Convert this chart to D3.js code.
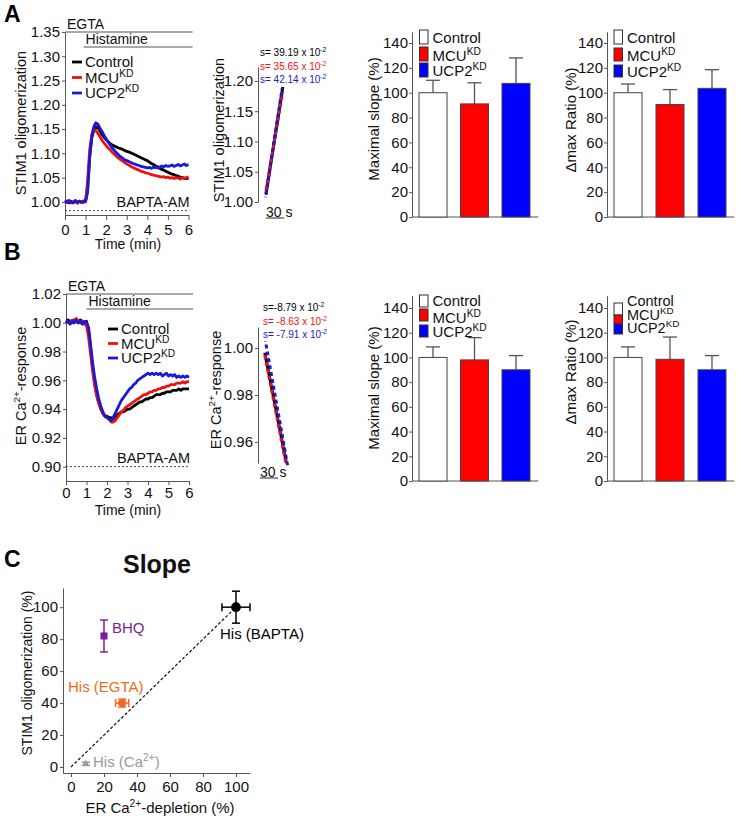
<!DOCTYPE html>
<html><head><meta charset="utf-8">
<script src="https://cdn.jsdelivr.net/npm/d3@7"></script>
<style>
body{margin:0;background:#fff;}
svg{display:block;}
</style></head><body>
<svg id="fig" width="740" height="821"></svg>
<script>
// ---------------- DATA ----------------
const groups = ["Control", "MCU", "UCP2"];
const groupLabels = [["Control"], ["MCU", ["KD"]], ["UCP2", ["KD"]]];
const groupColors = ["#000000", "#ee1111", "#1a1ad6"];
const barFills = ["#ffffff", "#ff0000", "#0000ff"];

const timeMin = d3.range(0, 61).map(i => i / 10);
const timeTicks = [0, 1, 2, 3, 4, 5, 6];

// Panel A traces (STIM1 oligomerization)
const stimControl = [1.000,1.002,0.998,1.001,0.999,1.003,0.998,1.001,1.000,0.999,1.002,
  1.030,1.095,1.132,1.148,1.155,1.153,1.146,1.139,1.133,1.128,
  1.124,1.120,1.117,1.115,1.113,1.111,1.110,1.108,1.106,1.104,
  1.103,1.101,1.099,1.097,1.095,1.093,1.091,1.089,1.087,1.085,
  1.082,1.079,1.077,1.074,1.071,1.069,1.067,1.065,1.063,1.061,
  1.059,1.057,1.056,1.054,1.053,1.051,1.050,1.049,1.048,1.049];
const stimMCU = [0.999,1.001,1.002,0.998,1.000,1.001,0.997,1.002,0.999,1.001,1.000,
  1.045,1.108,1.138,1.149,1.147,1.141,1.134,1.127,1.121,1.116,
  1.111,1.107,1.102,1.098,1.094,1.090,1.087,1.084,1.081,1.078,
  1.076,1.073,1.071,1.069,1.067,1.065,1.063,1.062,1.060,1.059,
  1.058,1.056,1.055,1.054,1.053,1.052,1.051,1.052,1.050,1.051,
  1.049,1.050,1.048,1.050,1.049,1.047,1.050,1.048,1.050,1.052];
const stimUCP2 = [1.001,0.999,1.003,1.000,0.998,1.002,1.000,1.001,0.999,1.002,1.001,
  1.020,1.090,1.135,1.155,1.163,1.160,1.152,1.145,1.137,1.130,
  1.123,1.117,1.111,1.106,1.101,1.097,1.093,1.090,1.087,1.085,
  1.083,1.081,1.079,1.078,1.076,1.075,1.073,1.072,1.071,1.070,
  1.071,1.069,1.072,1.070,1.073,1.071,1.074,1.072,1.075,1.073,
  1.074,1.076,1.073,1.075,1.077,1.074,1.076,1.078,1.075,1.077];

// Panel B traces (ER Ca2+ response)
const erControl = [1.000,1.002,1.001,1.000,1.002,1.001,1.000,1.002,1.001,1.000,1.001,
  0.995,0.982,0.969,0.958,0.950,0.944,0.940,0.937,0.935,0.935,
  0.934,0.934,0.933,0.935,0.936,0.937,0.938,0.938,0.939,0.940,
  0.940,0.941,0.942,0.943,0.944,0.945,0.945,0.946,0.947,0.947,
  0.948,0.948,0.949,0.950,0.950,0.950,0.951,0.951,0.952,0.952,
  0.952,0.953,0.953,0.953,0.954,0.953,0.954,0.954,0.954,0.954];
const erMCU = [1.000,1.001,1.000,1.002,1.000,1.003,1.001,1.000,1.001,0.999,0.998,
  0.990,0.978,0.966,0.956,0.949,0.944,0.940,0.937,0.935,0.934,
  0.933,0.931,0.931,0.932,0.934,0.936,0.938,0.939,0.941,0.942,
  0.943,0.944,0.945,0.946,0.947,0.948,0.949,0.950,0.950,0.951,
  0.952,0.952,0.953,0.953,0.954,0.954,0.955,0.955,0.956,0.956,
  0.957,0.957,0.957,0.958,0.958,0.958,0.959,0.958,0.959,0.959];
const erUCP2 = [1.000,1.001,0.999,1.001,1.000,1.002,1.000,1.001,0.999,1.001,1.000,
  0.997,0.985,0.972,0.962,0.954,0.947,0.942,0.938,0.935,0.934,
  0.933,0.932,0.934,0.937,0.940,0.943,0.946,0.948,0.950,0.952,
  0.954,0.955,0.957,0.958,0.960,0.961,0.962,0.963,0.964,0.965,
  0.964,0.965,0.964,0.965,0.964,0.965,0.963,0.964,0.965,0.963,
  0.964,0.963,0.964,0.962,0.963,0.962,0.963,0.962,0.963,0.962];

const stimYTicks = [1.00,1.05,1.10,1.15,1.20,1.25,1.30,1.35];
const erYTicks = [0.90,0.92,0.94,0.96,0.98,1.00,1.02];
const baptaLevelA = 0.982, baptaLevelB = 0.90;
const histStartA = 0.9, histStartB = 1.0;

// Slope insets (time in s, value)
const slopeTimesA = [[0, 28], [0, 28], [-1, 27]];
const slopeValsA = [[1.012, 1.190], [1.020, 1.182], [1.008, 1.188]];
const slopeTextA = ["s= 39.19 x 10", "s= 35.65 x 10", "s= 42.14 x 10"];
const slopeTimesB = [[8, 44], [8, 43], [9, 46]];
const slopeValsB = [[0.998, 0.951], [0.997, 0.951], [1.003, 0.950]];
const slopeTextB = ["s=-8.79 x 10", "s= -8.63 x 10", "s= -7.91 x 10"];
const slopeExp = "-2";
const stimInsetTicks = [1.00, 1.05, 1.10, 1.15, 1.20];
const erInsetTicks = [0.96, 0.98, 1.00];

// Bar data (%)
const barTicks = [0, 20, 40, 60, 80, 100, 120, 140];
const stimSlopeMean = [100, 91, 107.5], stimSlopeErr = [10, 17, 20.5];
const stimDmaxMean = [100, 90.5, 103.5], stimDmaxErr = [7, 12, 15];
const erSlopeMean = [100, 98, 90], erSlopeErr = [8.5, 18, 11.5];
const erDmaxMean = [100, 98.5, 90], erDmaxErr = [8.5, 18, 11.5];

// Panel C
const cNames = ["His (BAPTA)", "BHQ", "His (EGTA)", "His (Ca2+)"];
const cX = [100, 20, 31, 9];
const cY = [100, 82, 40, 2];
const cXErr = [8.5, 0, 4, 0];
const cYErr = [10, 10, 2.5, 1];
const cColors = ["#000000", "#7a1f98", "#f26a1b", "#999999"];
const cTicks = [0, 20, 40, 60, 80, 100];

// ---------------- DRAWING ----------------
const FONT = '"Liberation Sans", Arial, Helvetica, sans-serif';
const svg = d3.select('#fig').attr('font-family', FONT);
const AX = '#555', TXT = '#111';

function rich(g, x, y, parts, o = {}) {
  const size = o.size || 15;
  const t = g.append('text').attr('x', x).attr('y', y)
    .attr('font-size', size).attr('fill', o.color || TXT)
    .attr('text-anchor', o.anchor || 'start')
    .attr('font-weight', o.weight || 'normal');
  if (o.rotate) t.attr('transform', `rotate(-90,${x},${y})`);
  let prevSup = false;
  const raise = o.raise || 0.38;
  parts.forEach(p => {
    const sup = Array.isArray(p);
    const ts = t.append('tspan').text(sup ? p[0] : p);
    if (sup) { ts.attr('font-size', size * 0.68).attr('dy', -size * raise); prevSup = true; }
    else if (prevSup) { ts.attr('dy', size * raise); prevSup = false; }
  });
  return t;
}

function styleAxis(a, size) {
  a.attr('font-family', FONT).attr('font-size', size);
  a.select('.domain').attr('stroke', AX).attr('stroke-width', 1);
  a.selectAll('.tick line').attr('stroke', AX);
  a.selectAll('.tick text').attr('fill', TXT);
}

// Panel letters
svg.append('text').attr('x', 4).attr('y', 22).attr('font-size', 23).attr('font-weight', 'bold').text('A');
svg.append('text').attr('x', 4).attr('y', 260).attr('font-size', 23).attr('font-weight', 'bold').text('B');
svg.append('text').attr('x', 4).attr('y', 567).attr('font-size', 23).attr('font-weight', 'bold').text('C');

function timePlot(p) {
  const g = svg.append('g');
  const x = d3.scaleLinear().domain([0, 6]).range(p.xRange);
  const y = d3.scaleLinear().domain(p.yDomain).range(p.yRange);
  g.append('g').attr('transform', `translate(0,${p.yRange[0]})`)
    .call(d3.axisBottom(x).tickValues(timeTicks).tickFormat(d3.format('d'))
      .tickSize(p.xTick[0]).tickPadding(p.xTick[1]).tickSizeOuter(0))
    .call(a => styleAxis(a, 15));
  g.append('g').attr('transform', `translate(${p.xRange[0]},0)`)
    .call(d3.axisLeft(y).tickValues(p.yTicks).tickFormat(d3.format('.2f'))
      .tickSize(3).tickPadding(2).tickSizeOuter(0))
    .call(a => styleAxis(a, 15));
  // stimulus bars
  g.append('line').attr('x1', x(0)).attr('x2', x(6.2)).attr('y1', p.yRange[1]).attr('y2', p.yRange[1])
    .attr('stroke', AX).attr('stroke-width', 1);
  g.append('line').attr('x1', x(p.histStart)).attr('x2', x(6.2)).attr('y1', p.yRange[1] + 15).attr('y2', p.yRange[1] + 15)
    .attr('stroke', AX).attr('stroke-width', 1);
  g.append('text').attr('x', x(0) + 2).attr('y', p.yRange[1] - 3).attr('font-size', 14).attr('fill', TXT).text('EGTA');
  g.append('text').attr('x', x(p.histStart) + 2).attr('y', p.yRange[1] + 12).attr('font-size', 14).attr('fill', TXT).text('Histamine');
  // BAPTA line
  g.append('line').attr('x1', x(0)).attr('x2', x(6.05)).attr('y1', y(p.bapta)).attr('y2', y(p.bapta))
    .attr('stroke', '#444').attr('stroke-width', 1).attr('stroke-dasharray', '2,2');
  g.append('text').attr('x', x(6.05)).attr('y', y(p.bapta) - 4).attr('text-anchor', 'end')
    .attr('font-size', 14.5).attr('fill', TXT).text('BAPTA-AM');
  // traces
  const line = d3.line().x((d, i) => x(timeMin[i])).y(d => y(d));
  p.series.forEach((s, k) => {
    g.append('path').datum(s).attr('d', line).attr('fill', 'none')
      .attr('stroke', groupColors[k]).attr('stroke-width', 2.8).attr('stroke-linejoin', 'round');
  });
  // legend
  p.series.forEach((s, k) => {
    const ly = p.legend[1] + k * p.legend[2];
    g.append('line').attr('x1', p.legend[0]).attr('x2', p.legend[0] + 10).attr('y1', ly).attr('y2', ly)
      .attr('stroke', groupColors[k]).attr('stroke-width', 2.8);
    rich(g, p.legend[0] + 13, ly + 5, groupLabels[k], { size: 15 });
  });
  rich(g, 128, p.yRange[0] + 34, ['Time (min)'], { size: 14, anchor: 'middle' });
  rich(g, p.ylab[0], p.ylab[1], p.ylabParts, { size: 14.5, anchor: 'middle', rotate: true });
}

timePlot({ xRange: [65, 188.5], yDomain: [0.973, 1.35], yRange: [215, 32], yTicks: stimYTicks,
  xTick: [5, 4], histStart: histStartA, bapta: baptaLevelA,
  series: [stimControl, stimMCU, stimUCP2], legend: [72, 62, 15.5],
  ylab: [26, 123], ylabParts: ['STIM1 oligomerization'] });
timePlot({ xRange: [66, 189], yDomain: [0.89, 1.02], yRange: [481, 294], yTicks: erYTicks,
  xTick: [4, 2], histStart: histStartB, bapta: baptaLevelB,
  series: [erControl, erMCU, erUCP2], legend: [108, 329, 14.5],
  ylab: [26, 386], ylabParts: ['ER Ca', ['2+'], '-response'] });

// slope insets
function slopeInset(p) {
  const g = svg.append('g');
  const x = d3.scaleLinear().domain([0, 30]).range(p.xRange);
  const y = d3.scaleLinear().domain(p.yDomain).range(p.yRange);
  g.append('g').attr('transform', `translate(${p.axisX},0)`)
    .call(d3.axisLeft(y).tickValues(p.yTicks).tickFormat(d3.format('.2f'))
      .tickSize(3).tickPadding(2).tickSizeOuter(0))
    .call(a => styleAxis(a, 15));
  const dash = [null, '4,3', '4,3'];
  p.times.forEach((tt, k) => {
    const pts = tt.map((t, i) => [x(t), y(p.vals[k][i])]);
    const path = g.append('path').attr('d', d3.line()(pts)).attr('fill', 'none')
      .attr('stroke', groupColors[k]).attr('stroke-width', 3);
    if (dash[k]) path.attr('stroke-dasharray', dash[k]).attr('stroke-dashoffset', k === 2 ? 3.5 : 0);
  });
  p.texts.forEach((s, k) => {
    rich(g, p.textPos[0], p.textPos[1] + k * 13.5, [s, [slopeExp]], { size: 10, color: groupColors[k] });
  });
  // 30 s scale bar
  g.append('line').attr('x1', x(0)).attr('x2', x(30)).attr('y1', p.barY).attr('y2', p.barY)
    .attr('stroke', '#222').attr('stroke-width', 1);
  g.append('text').attr('x', x(0)).attr('y', p.barY - 1.5).attr('font-size', 14).attr('fill', TXT).text('30 s');
  rich(g, p.ylab[0], p.ylab[1], p.ylabParts, { size: 14.5, anchor: 'middle', rotate: true });
}
slopeInset({ xRange: [266, 284], yDomain: [1.0, 1.223], yRange: [202, 67], axisX: 258,
  yTicks: stimInsetTicks, times: slopeTimesA, vals: slopeValsA, texts: slopeTextA,
  textPos: [260, 56], barY: 218, ylab: [224, 130], ylabParts: ['STIM1 oligomerization'] });
slopeInset({ xRange: [260, 278], yDomain: [0.951, 1.009], yRange: [463, 327], axisX: 258,
  yTicks: erInsetTicks, times: slopeTimesB, vals: slopeValsB, texts: slopeTextB,
  textPos: [263, 311], barY: 478, ylab: [221, 390], ylabParts: ['ER Ca', ['2+'], '-response'] });

// bar charts
function barPlot(p) {
  const g = svg.append('g');
  const x = d3.scaleBand().domain(groups).range(p.xRange).paddingInner(p.padIn).paddingOuter(0.2);
  const y = d3.scaleLinear().domain([0, p.yMax]).range([p.y0, p.y0 - p.yMax * p.pxPerUnit]);
  g.append('g').attr('transform', `translate(${p.axisX},0)`)
    .call(d3.axisLeft(y).tickValues(barTicks).tickFormat(d3.format('d'))
      .tickSize(3).tickPadding(1).tickSizeOuter(0))
    .call(a => styleAxis(a, 15));
  g.append('line').attr('x1', p.axisX).attr('x2', p.xRange[1]).attr('y1', p.y0).attr('y2', p.y0)
    .attr('stroke', AX).attr('stroke-width', 1);
  groups.forEach((c, k) => {
    const cx = x(c) + x.bandwidth() / 2;
    g.append('line').attr('x1', cx).attr('x2', cx).attr('y1', y(p.mean[k])).attr('y2', y(p.mean[k] + p.err[k]))
      .attr('stroke', AX).attr('stroke-width', 1.3);
    g.append('line').attr('x1', cx - 7).attr('x2', cx + 7).attr('y1', y(p.mean[k] + p.err[k])).attr('y2', y(p.mean[k] + p.err[k]))
      .attr('stroke', AX).attr('stroke-width', 1.3);
    g.append('rect').attr('x', x(c)).attr('y', y(p.mean[k])).attr('width', x.bandwidth())
      .attr('height', y(0) - y(p.mean[k])).attr('fill', barFills[k]).attr('stroke', '#444').attr('stroke-width', 1);
  });
  // legend
  groups.forEach((c, k) => {
    g.append('rect').attr('x', p.legX).attr('y', p.legBoxes[k][0]).attr('width', 8.5)
      .attr('height', p.legBoxes[k][1] - p.legBoxes[k][0]).attr('fill', barFills[k])
      .attr('stroke', '#333').attr('stroke-width', 1);
    rich(g, p.legX + 13, p.legText[k], groupLabels[k], { size: p.legSize || 15 });
  });
  rich(g, p.ylab[0], p.ylab[1], p.ylabParts, { size: 15, anchor: 'middle', rotate: true });
}
barPlot({ xRange: [410.7, 538.3], padIn: 0.325, axisX: 412, y0: 217, yMax: 149, pxPerUnit: 174 / 140,
  mean: stimSlopeMean, err: stimSlopeErr, legX: 419.5,
  legBoxes: [[30, 44], [47, 61], [63, 77]], legText: [43, 61, 76],
  ylab: [379, 119], ylabParts: ['Maximal slope (%)'] });
barPlot({ xRange: [605.6, 734.4], padIn: 0.333, axisX: 607, y0: 217, yMax: 149, pxPerUnit: 174 / 140,
  mean: stimDmaxMean, err: stimDmaxErr, legX: 614,
  legBoxes: [[30, 44], [48, 61], [65, 77]], legText: [43, 61, 77],
  ylab: [576, 120], ylabParts: ['\u0394max Ratio (%)'] });
barPlot({ xRange: [410.7, 538.3], padIn: 0.325, axisX: 412, y0: 481, yMax: 150, pxPerUnit: 173 / 140,
  mean: erSlopeMean, err: erSlopeErr, legX: 419.5,
  legBoxes: [[295, 307], [309, 321], [325, 337]], legText: [306, 323, 337],
  ylab: [379, 388], ylabParts: ['Maximal slope (%)'] });
barPlot({ xRange: [605.6, 734.4], padIn: 0.333, axisX: 607, y0: 481, yMax: 150, pxPerUnit: 173 / 140,
  mean: erDmaxMean, err: erDmaxErr, legX: 614, legSize: 14.5,
  legBoxes: [[303, 315], [315, 324], [324, 334]], legText: [306, 320, 333],
  ylab: [576, 372], ylabParts: ['\u0394max Ratio (%)'] });

// Panel C
(function () {
  const g = svg.append('g');
  const x = d3.scaleLinear().domain([-4.85, 108.5]).range([63, 250]);
  const y = d3.scaleLinear().domain([-3.75, 112]).range([773, 588]);
  g.append('g').attr('transform', 'translate(0,773)')
    .call(d3.axisBottom(x).tickValues(cTicks).tickFormat(d3.format('d')).tickSize(4).tickPadding(4).tickSizeOuter(0))
    .call(a => styleAxis(a, 15));
  g.append('g').attr('transform', 'translate(63,0)')
    .call(d3.axisLeft(y).tickValues(cTicks).tickFormat(d3.format('d')).tickSize(3).tickPadding(2).tickSizeOuter(0))
    .call(a => styleAxis(a, 15));
  g.append('line').attr('x1', x(0)).attr('y1', y(0)).attr('x2', x(100)).attr('y2', y(100))
    .attr('stroke', '#111').attr('stroke-width', 1.2).attr('stroke-dasharray', '3,2');
  const shapes = [d3.symbolCircle, d3.symbolSquare, d3.symbolCircle, d3.symbolTriangle];
  const sizes = [75, 50, 55, 22];
  cX.forEach((vx, k) => {
    const col = cColors[k];
    if (cXErr[k] > 0) {
      g.append('line').attr('x1', x(vx - cXErr[k])).attr('x2', x(vx + cXErr[k])).attr('y1', y(cY[k])).attr('y2', y(cY[k]))
        .attr('stroke', col).attr('stroke-width', 1.5);
      [vx - cXErr[k], vx + cXErr[k]].forEach(e => g.append('line').attr('x1', x(e)).attr('x2', x(e))
        .attr('y1', y(cY[k]) - 4).attr('y2', y(cY[k]) + 4).attr('stroke', col).attr('stroke-width', 1.5));
    }
    if (cYErr[k] > 0) {
      g.append('line').attr('x1', x(vx)).attr('x2', x(vx)).attr('y1', y(cY[k] - cYErr[k])).attr('y2', y(cY[k] + cYErr[k]))
        .attr('stroke', col).attr('stroke-width', 1.5);
      [cY[k] - cYErr[k], cY[k] + cYErr[k]].forEach(e => g.append('line').attr('x1', x(vx) - 4).attr('x2', x(vx) + 4)
        .attr('y1', y(e)).attr('y2', y(e)).attr('stroke', col).attr('stroke-width', 1.5));
    }
    g.append('path').attr('d', d3.symbol().type(shapes[k]).size(sizes[k])())
      .attr('transform', `translate(${x(vx)},${y(cY[k])})`).attr('fill', col);
  });
  rich(g, 220, 639, [cNames[0]], { size: 15, color: cColors[0] });
  rich(g, 112, 633, [cNames[1]], { size: 15, color: cColors[1] });
  rich(g, 68, 692, [cNames[2]], { size: 15, color: cColors[2] });
  rich(g, 93, 767, ['His (Ca', ['2+'], ')'], { size: 15, color: cColors[3] });
  rich(g, 157, 573, ['Slope'], { size: 25, anchor: 'middle', weight: 'bold' });
  rich(g, 160, 813, ['ER Ca', ['2+'], '-depletion (%)'], { size: 15, anchor: 'middle' });
  rich(g, 32, 673, ['STIM1 oligomerization (%)'], { size: 14, anchor: 'middle', rotate: true });
})();
</script>
</body></html>
